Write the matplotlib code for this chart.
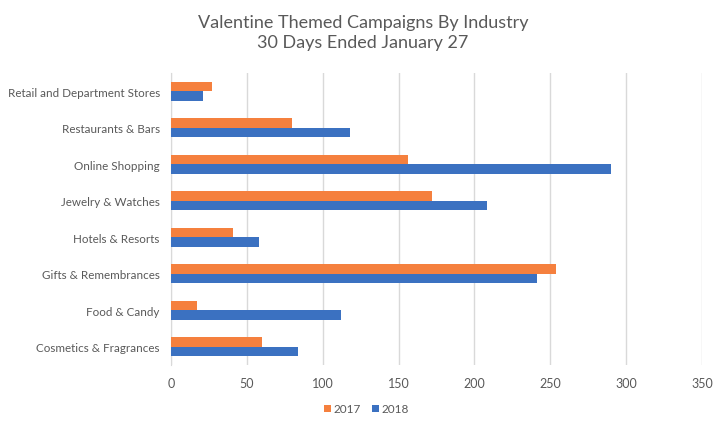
import numpy as np
import matplotlib.pyplot as plt

# categories listed bottom to top
categories = ["Cosmetics & Fragrances", "Food & Candy", "Gifts & Remembrances",
              "Hotels & Resorts", "Jewelry & Watches", "Online Shopping",
              "Restaurants & Bars", "Retail and Department Stores"]
vals_2017 = [60, 17, 254, 41, 172, 156, 80, 27]
vals_2018 = [84, 112, 241, 58, 208, 290, 118, 21]
xticks = [0, 50, 100, 150, 200, 250, 300, 350]

plt.rcParams['font.family'] = ['Lato', 'DejaVu Sans']
grey = "#595959"

fig = plt.figure(figsize=(7.26, 4.27), dpi=100)
ax = fig.add_axes([0.2355, 0.143, 0.7315, 0.684])

y = np.arange(len(categories))
h = 0.26
ax.barh(y + h/2, vals_2017, height=h, color="#F5803E", label="2017", zorder=3)
ax.barh(y - h/2, vals_2018, height=h, color="#3B71C1", label="2018", zorder=3)

ax.set_xlim(0, 350)
ax.set_ylim(-0.5, len(categories) - 0.5)
ax.set_xticks(xticks)
ax.set_yticks(y)
ax.set_yticklabels(categories, fontsize=8.4)
ax.tick_params(axis='both', length=0, colors=grey)
ax.tick_params(axis='x', pad=9, labelsize=9)
ax.tick_params(axis='y', pad=8)
ax.grid(axis='x', color="#d9d9d9", linewidth=1, zorder=0)
for s in ['top', 'right', 'bottom']:
    ax.spines[s].set_visible(False)
ax.spines['left'].set_color("#d9d9d9")

fig.suptitle("Valentine Themed Campaigns By Industry\n30 Days Ended January 27",
             x=0.5, y=0.965, fontsize=13, color=grey, linespacing=1.3)

fig.legend(loc='center', bbox_to_anchor=(0.505, 0.04), ncol=2, frameon=False,
           fontsize=8.5, labelcolor=grey, handlelength=0.6, handleheight=0.6,
           handletextpad=0.25, columnspacing=0.9)

fig.savefig("out.png", dpi=100)
